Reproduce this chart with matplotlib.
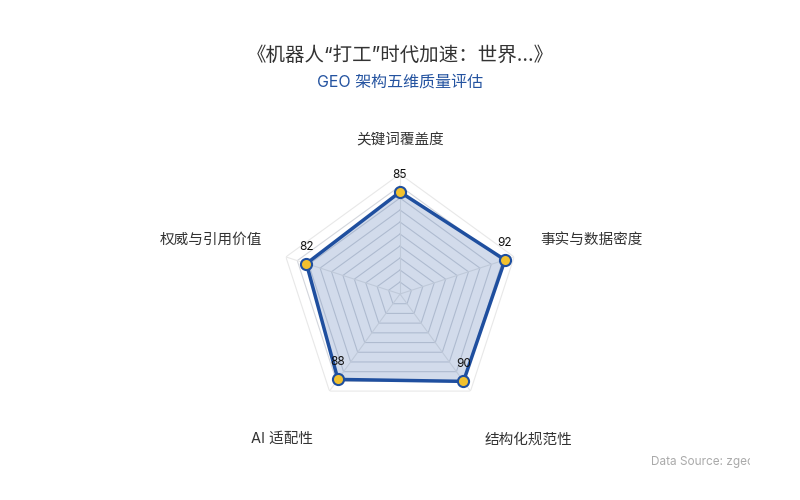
import numpy as np
import matplotlib
matplotlib.use("Agg")
import matplotlib.pyplot as plt
from matplotlib.transforms import Bbox

plt.rcParams['font.family'] = ['Inter', 'Noto Sans CJK SC', 'DejaVu Sans']

# data
dimensions = ['关键词覆盖度', '事实与数据密度', '结构化规范性', 'AI 适配性', '权威与引用价值']
scores = [85, 92, 90, 88, 82]
max_score = 100
grid_levels = [10, 20, 30, 40, 50, 60, 70, 80, 90, 100]

title = '《机器人“打工”时代加速：世界...》'
subtitle = 'GEO 架构五维质量评估'
source = 'Data Source: zgeo'

# colours
line_col = '#1f4f9f'
dot_col = '#f2c12e'
grid_col = '#d3d6dc'
outer_col = '#e8e8e8'

# where the axis names sit (pixel anchors, ha)
name_pos = [(400, 140, 'center'), (540, 240, 'left'), (485, 440, 'left'),
            (313, 439, 'right'), (262, 240, 'right')]

W, H = 800, 500
fig = plt.figure(figsize=(8, 5), dpi=100)
cx, cy, R = 400, 294, 120
ax = fig.add_axes([(cx - R) / W, (H - cy - R) / H, 2 * R / W, 2 * R / H], polar=True)
ax.set_theta_zero_location('N')
ax.set_theta_direction(-1)
ax.set_ylim(0, max_score)
ax.axis('off')

n = len(dimensions)
angles = np.linspace(0, 2 * np.pi, n, endpoint=False)
ring = np.append(angles, angles[0])

for lv in grid_levels:
    c = outer_col if lv == max_score else grid_col
    ax.plot(ring, [lv] * (n + 1), color=c, lw=0.8, zorder=1)
for a in angles:
    ax.plot([a, a], [0, max_score], color=outer_col, lw=0.8, zorder=1)

vals = scores + scores[:1]
ax.fill(ring, vals, color=line_col, alpha=0.2, lw=0, zorder=2)
ax.plot(ring, vals, color=line_col, lw=2.5, zorder=3)
ax.plot(angles, scores, 'o', ms=8, mfc=dot_col, mec=line_col, mew=1.5, zorder=4)

for a, v in zip(angles, scores):
    ax.annotate(str(v), (a, v), xytext=(0, 17), textcoords='offset pixels',
                ha='center', va='center', fontsize=8.5, color='#111111', zorder=5)

for name, (px, py, ha) in zip(dimensions, name_pos):
    fig.text(px / W, 1 - py / H, name, ha=ha, va='center', fontsize=10.5, color='#333333')

fig.text(0.5, 1 - 56 / H, title, ha='center', va='center', fontsize=14, color='#333333')
fig.text(0.5, 1 - 82 / H, subtitle, ha='center', va='center', fontsize=11.5, color='#2453a0')

t = fig.text(651 / W, 1 - 462 / H, source, ha='left', va='center', fontsize=8.5, color='#aaaaaa')
t.set_clip_box(Bbox([[0, 0], [750, H]]))
t.set_clip_on(True)

fig.savefig('out.png', dpi=100, facecolor='white')
